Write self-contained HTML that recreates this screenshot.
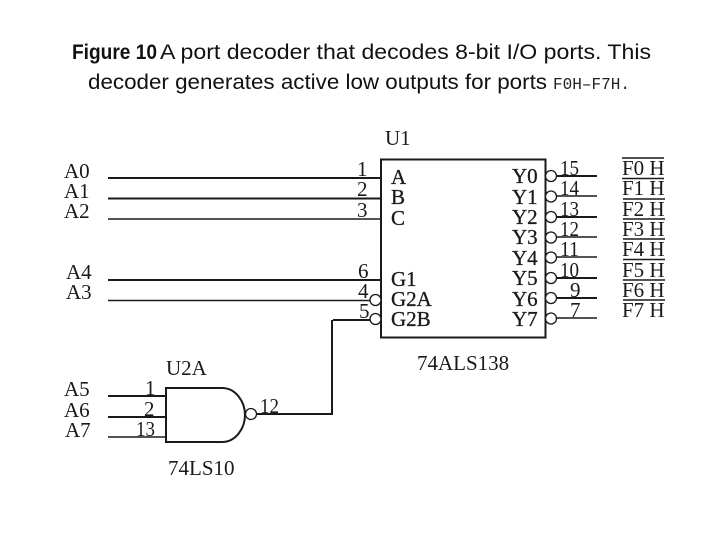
<!DOCTYPE html>
<html>
<head>
<meta charset="utf-8">
<style>
html,body{margin:0;padding:0;background:#fff;width:720px;height:540px;overflow:hidden}
svg{display:block}
.t{font-family:"Liberation Sans",sans-serif;font-size:21.5px;fill:#111}
.s{font-family:"Liberation Serif",serif;font-size:21px;fill:#1a1a1a}
.b{font-family:"Liberation Serif",serif;font-size:21px;fill:#1a1a1a;stroke:#1a1a1a;stroke-width:.3}
.w{stroke:#1a1a1a;stroke-width:2;fill:none}
.n{stroke:#1a1a1a;stroke-width:1.5;fill:none}
.c{stroke:#1a1a1a;stroke-width:1.3;fill:#fff}
</style>
</head>
<body>
<svg width="720" height="540" viewBox="0 0 720 540" xmlns="http://www.w3.org/2000/svg">
<rect width="720" height="540" fill="#fff"/>

<text class="t" x="72" y="59" font-weight="bold" textLength="85" lengthAdjust="spacingAndGlyphs">Figure 10</text>
<text class="t" x="160" y="59" textLength="491" lengthAdjust="spacingAndGlyphs">A port decoder that decodes 8-bit I/O ports. This</text>
<text class="t" x="88" y="89" textLength="459" lengthAdjust="spacingAndGlyphs">decoder generates active low outputs for ports</text>
<text x="553" y="89" font-family="Liberation Mono,monospace" font-size="17" fill="#222" textLength="77" lengthAdjust="spacingAndGlyphs">F0H–F7H.</text>

<!-- input wires -->
<path class="w" d="M108 178H381M108 280H381"/>
<path class="w" d="M108 198.500H381"/>
<path class="n" d="M108 219H381M108 300.500H370"/>
<path class="w" d="M108 396H166M108 417H166"/>
<path class="n" d="M108 437H166"/>

<!-- U1 -->
<rect x="381" y="159.500" width="164.500" height="178" fill="#fff" stroke="#1a1a1a" stroke-width="2"/>
<circle class="c" cx="375.500" cy="300" r="5.500"/>
<circle class="c" cx="375.500" cy="319" r="5.500"/>
<path class="w" d="M333 320H370M332 320V414H256"/>

<!-- outputs -->
<path class="w" d="M556 176H597M556 217H597M556 278H597M556 298H597"/>
<path class="n" d="M556 196H597M556 237H597M556 257H597M556 318H597"/>
<circle class="c" cx="551" cy="176" r="5.500"/>
<circle class="c" cx="551" cy="196.500" r="5.500"/>
<circle class="c" cx="551" cy="217" r="5.500"/>
<circle class="c" cx="551" cy="237.500" r="5.500"/>
<circle class="c" cx="551" cy="257.500" r="5.500"/>
<circle class="c" cx="551" cy="278" r="5.500"/>
<circle class="c" cx="551" cy="298" r="5.500"/>
<circle class="c" cx="551" cy="318.500" r="5.500"/>

<!-- NAND -->
<path d="M166 388H222C236 388 245 402 245 415C245 428 236 442 222 442H166Z" fill="#fff" stroke="#1a1a1a" stroke-width="2"/>
<circle class="c" cx="251" cy="414" r="5.500"/>

<!-- input labels -->
<g class="s">
<text x="64" y="178">A0</text><text x="64" y="198">A1</text><text x="64" y="218">A2</text>
<text x="66" y="279">A4</text><text x="66" y="299">A3</text>
<text x="64" y="396">A5</text><text x="64" y="417">A6</text><text x="65" y="437">A7</text>
</g>

<!-- pin numbers left -->
<g class="s">
<text x="357" y="176">1</text><text x="357" y="196">2</text><text x="357" y="217">3</text>
<text x="358" y="278">6</text><text x="358" y="298">4</text><text x="359" y="318">5</text>
<text x="145" y="395">1</text><text x="144" y="416">2</text><text x="136" y="436" textLength="19" lengthAdjust="spacingAndGlyphs">13</text>
<text x="260" y="413" textLength="19" lengthAdjust="spacingAndGlyphs">12</text>
</g>

<!-- U1 text -->
<g class="s">
<text x="385" y="145">U1</text>
<text x="417" y="370">74ALS138</text>
<text x="166" y="375">U2A</text>
<text x="168" y="475">74LS10</text>
</g>
<g class="b">
<text x="391" y="184">A</text><text x="391" y="204">B</text><text x="391" y="225">C</text>
<text x="391" y="286">G1</text><text x="391" y="306">G2A</text><text x="391" y="326">G2B</text>
<text x="512" y="183">Y0</text><text x="512" y="204">Y1</text><text x="512" y="224">Y2</text><text x="512" y="244">Y3</text>
<text x="512" y="265">Y4</text><text x="512" y="285">Y5</text><text x="512" y="306">Y6</text><text x="512" y="326">Y7</text>
</g>

<!-- pin numbers right -->
<g class="s">
<text x="560" y="175" textLength="19" lengthAdjust="spacingAndGlyphs">15</text><text x="560" y="195" textLength="19" lengthAdjust="spacingAndGlyphs">14</text><text x="560" y="216" textLength="19" lengthAdjust="spacingAndGlyphs">13</text><text x="560" y="236" textLength="19" lengthAdjust="spacingAndGlyphs">12</text>
<text x="560" y="256" textLength="19" lengthAdjust="spacingAndGlyphs">11</text><text x="560" y="277" textLength="19" lengthAdjust="spacingAndGlyphs">10</text><text x="570" y="297">9</text><text x="570" y="317">7</text>
</g>

<!-- port labels -->
<g class="s">
<text x="622" y="175">F0 H</text><text x="622" y="195">F1 H</text><text x="622" y="216">F2 H</text><text x="622" y="236">F3 H</text>
<text x="622" y="256">F4 H</text><text x="622" y="277">F5 H</text><text x="622" y="297">F6 H</text><text x="622" y="317">F7 H</text>
</g>
<path class="n" d="M622 158H664M622 178.500H664M623 199H665M623 219H665M623 239H665M623 259.500H665M623 280H665M623 300H665"/>
</svg>
</body>
</html>
